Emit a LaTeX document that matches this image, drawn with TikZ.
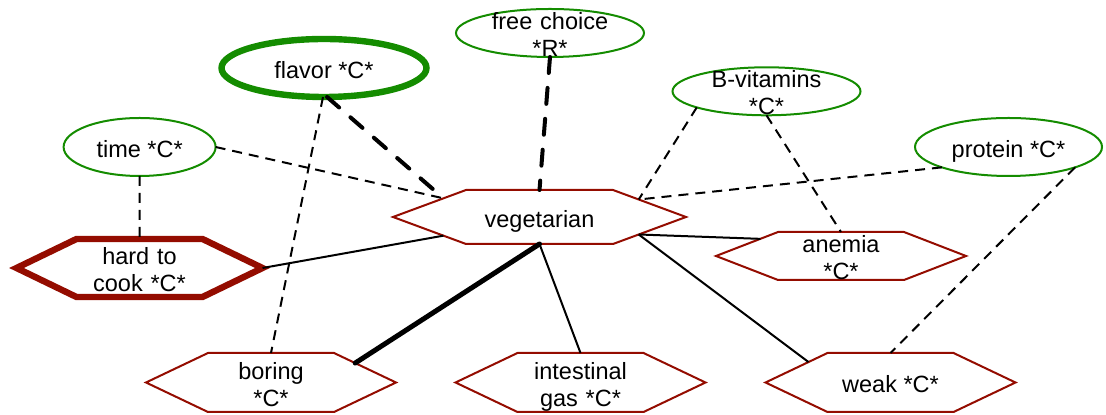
\documentclass[tikz,border=0pt]{standalone}
\usepackage{fontspec}
\setmainfont{Liberation Sans}
\usetikzlibrary{shapes.symbols,shapes.geometric}
\definecolor{conceptgreen}{RGB}{20,140,0}
\definecolor{conceptred}{RGB}{148,12,0}

\begin{document}
\begin{tikzpicture}[x=0.5pt,y=-0.5pt,
  every node/.style={font=\fontsize{11.75}{13.5}\selectfont, inner sep=0pt, outer sep=0pt},
  % green ovals for attributes
  oval/.style={ellipse, draw=conceptgreen, line width=1pt, text height=10.5pt, text depth=0pt},
  % red hexagons for consequences
  hexa/.style={signal, signal from=nowhere, signal to=west and east,
    draw=conceptred, line width=1pt, text height=10.5pt, text depth=0pt},
  heavy/.style={line width=3.2pt},
  twoline/.style={align=center, text width=#1, text height=0pt, text depth=3.4pt},
  link/.style={line width=1pt},
  boldlink/.style={line width=2.5pt, line cap=round},
  dashlink/.style={line width=1pt, dash pattern=on 5pt off 3.5pt},
  bolddash/.style={line width=2pt, line cap=round, dash pattern=on 8pt off 7.5pt}
]
\path[use as bounding box] (0,0) rectangle (1106,415);

% attributes
\node[oval, heavy, minimum width=102.5pt, minimum height=29pt] (flavor) at (324,68) {flavor *C*};
\node[oval, minimum width=76pt, minimum height=29pt] (time) at (139.6,147) {time *C*};
\node[oval, twoline=60pt, minimum width=94pt, minimum height=24pt] (choice) at (550,33) {free choice\\{*}R*};
\node[oval, twoline=60pt, minimum width=94pt, minimum height=24pt] (bvit) at (766.5,91.3) {B-vitamins\\{*}C*};
\node[oval, minimum width=93.5pt, minimum height=29pt] (protein) at (1008.5,147) {protein *C*};

% consequences
\node[hexa, minimum width=146.5pt, minimum height=27pt, signal pointer angle=40.6] (veg) at (539.5,217) {vegetarian};
\node[hexa, heavy, twoline=50pt, minimum width=123pt, minimum height=29pt, signal pointer angle=51.6] (hard) at (139.5,268) {hard to\\cook *C*};
\node[hexa, twoline=50pt, minimum width=125pt, minimum height=29.5pt, signal pointer angle=50.9] (boring) at (271,382.5) {boring\\{*}C*};
\node[hexa, twoline=50pt, minimum width=125pt, minimum height=29.5pt, signal pointer angle=50.9] (gas) at (580.5,382.5) {intestinal\\gas *C*};
\node[hexa, minimum width=125pt, minimum height=29.5pt, signal pointer angle=50.9] (weak) at (890.5,382.5) {weak *C*};
\node[hexa, twoline=50pt, minimum width=125pt, minimum height=24pt, signal pointer angle=42.3] (anemia) at (841,256) {anemia\\{*}C*};

% dashed links from attributes
\draw[dashlink] (time.east) -- (veg.169);
\draw[bolddash] (flavor.-84) -- (veg.169);
\draw[dashlink] (flavor.-92) -- (boring.north);
\draw[dashlink] (time.south) -- (hard.north);
\draw[bolddash] (choice.south) -- (veg.north);
\draw[dashlink] (bvit.193) -- (veg.10.5);
\draw[dashlink] (protein.197.6) -- (veg.10.5);
\draw[dashlink] (bvit.south) -- (anemia.north);
\draw[dashlink] (protein.-17.8) -- (weak.north);

% solid links from vegetarian
\draw[link] (veg.-169) -- (hard.east);
\draw[boldlink] (veg.south) -- (boring.13.5);
\draw[link] (veg.south) -- (gas.north);
\draw[link] (veg.-10.5) -- (anemia.168.4);
\draw[link] (veg.-10.5) -- (weak.166.5);
\end{tikzpicture}
\end{document}
